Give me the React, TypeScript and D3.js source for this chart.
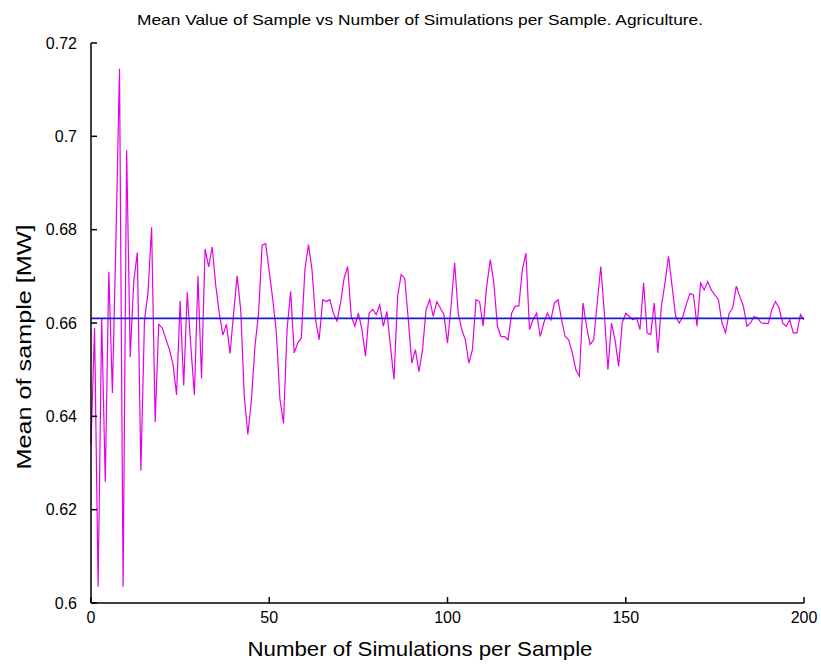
import React from "react";
import * as d3 from "d3";

const title = "Mean Value of Sample vs Number of Simulations per Sample. Agriculture.";
const xLabel = "Number of Simulations per Sample";
const yLabel = "Mean of sample [MW]";

const xTicks = [0, 50, 100, 150, 200];
const yTicks = [0.6, 0.62, 0.64, 0.66, 0.68, 0.7, 0.72];

const overallMean = 0.661;

// Mean of sample for 0..200 simulations per sample
const sampleMeans = [
  0.634, 0.659, 0.6035, 0.661, 0.626, 0.671, 0.645, 0.678, 0.7145, 0.6035,
  0.697, 0.6527, 0.669, 0.6751, 0.6284, 0.6605, 0.6666, 0.6805, 0.6388, 0.6597,
  0.6589, 0.6566, 0.6543, 0.6512, 0.6446, 0.6647, 0.6466, 0.6666, 0.655, 0.6446,
  0.6701, 0.6481, 0.6759, 0.672, 0.6763, 0.668, 0.662, 0.6574, 0.6597, 0.6535,
  0.662, 0.6701, 0.6628, 0.6442, 0.6361, 0.6435, 0.6551, 0.662, 0.6767, 0.677,
  0.671, 0.665, 0.6579, 0.6436, 0.6385, 0.6586, 0.6668, 0.6536, 0.6557, 0.6568,
  0.6714, 0.6768, 0.6714, 0.6607, 0.6564, 0.665, 0.6646, 0.665, 0.6621, 0.6604,
  0.6643, 0.6696, 0.6721, 0.6614, 0.6593, 0.6621, 0.6586, 0.6529, 0.6621, 0.6629,
  0.6618, 0.6639, 0.6593, 0.6625, 0.655, 0.6479, 0.6657, 0.6704, 0.6696, 0.6607,
  0.6514, 0.6543, 0.6496, 0.6543, 0.6629, 0.665, 0.6614, 0.6646, 0.6632, 0.6618,
  0.6557, 0.6636, 0.6729, 0.6621, 0.6586, 0.6564, 0.6514, 0.6543, 0.665, 0.6646,
  0.6593, 0.6679, 0.6736, 0.6686, 0.6593, 0.6571, 0.6571, 0.6564, 0.6621, 0.6636,
  0.6636, 0.6714, 0.675, 0.6586, 0.6607, 0.6621, 0.6571, 0.66, 0.6621, 0.6607,
  0.6643, 0.665, 0.6607, 0.6571, 0.6564, 0.6536, 0.65, 0.6486, 0.6643, 0.6593,
  0.6554, 0.6564, 0.6643, 0.6721, 0.6621, 0.65, 0.66, 0.6564, 0.6507, 0.66,
  0.6621, 0.6614, 0.6607, 0.6611, 0.6586, 0.6686, 0.6579, 0.6575, 0.6643, 0.6536,
  0.6636, 0.6686, 0.6743, 0.6679, 0.6614, 0.66, 0.6614, 0.664, 0.6663, 0.666,
  0.6593, 0.6686, 0.6671, 0.6689, 0.6671, 0.666, 0.665, 0.66, 0.6579, 0.6621,
  0.6632, 0.6679, 0.6657, 0.6636, 0.6593, 0.66, 0.6614, 0.6611, 0.66, 0.6599,
  0.6599, 0.6629, 0.6646, 0.6632, 0.66, 0.6593, 0.6607, 0.6579, 0.6579, 0.6618,
  0.6607,
];

const W = 821;
const H = 667;
const left = 91;
const right = 804;
const top = 43;
const bottom = 603;

export default function App() {
  const x = d3.scaleLinear().domain([0, 200]).range([left, right]);
  const y = d3.scaleLinear().domain([0.6, 0.72]).range([bottom, top]);
  const line = d3
    .line<number>()
    .x((_, i) => x(i))
    .y((d) => y(d));
  const font = "Liberation Sans, Arial, sans-serif";
  return (
    <svg
      width={W}
      height={H}
      style={{ position: "absolute", left: 0, top: 0, background: "#fff" }}
      fontFamily={font}
    >
      <rect x={0} y={0} width={W} height={H} fill="#fff" />
      <text x={420} y={25} textAnchor="middle" fontSize={14.5} fill="#000" textLength={566} lengthAdjust="spacingAndGlyphs">
        {title}
      </text>
      <path d={line(sampleMeans) || ""} fill="none" stroke="#e600e6" strokeWidth={1.2} />
      <line x1={x(0)} x2={x(200)} y1={y(overallMean)} y2={y(overallMean)} stroke="#1c1cc8" strokeWidth={1.6} />
      <line x1={left} x2={left} y1={top} y2={bottom} stroke="#000" strokeWidth={1.5} />
      <line x1={left} x2={right} y1={bottom} y2={bottom} stroke="#000" strokeWidth={1.5} />
      {yTicks.map((t) => (
        <g key={"y" + t}>
          <line x1={left} x2={left + 6} y1={y(t)} y2={y(t)} stroke="#000" strokeWidth={1.5} />
          <text x={left - 14} y={y(t)} dy="0.35em" textAnchor="end" fontSize={16} fill="#000">
            {String(+t.toFixed(2))}
          </text>
        </g>
      ))}
      {xTicks.map((t) => (
        <g key={"x" + t}>
          <line x1={x(t)} x2={x(t)} y1={bottom} y2={bottom - 6} stroke="#000" strokeWidth={1.5} />
          <text x={x(t)} y={bottom + 20} textAnchor="middle" fontSize={16} fill="#000">
            {String(t)}
          </text>
        </g>
      ))}
      <text x={420} y={656} textAnchor="middle" fontSize={21} fill="#000" textLength={345} lengthAdjust="spacingAndGlyphs">
        {xLabel}
      </text>
      <text
        transform={`translate(31, 347) rotate(-90)`}
        textAnchor="middle"
        fontSize={21}
        fill="#000"
        textLength={245}
        lengthAdjust="spacingAndGlyphs"
      >
        {yLabel}
      </text>
    </svg>
  );
}
